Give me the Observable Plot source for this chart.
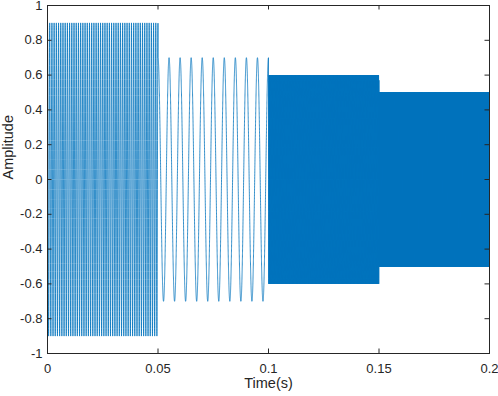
<!DOCTYPE html>
<html>
<head>
<meta charset="utf-8">
<script src="https://cdn.jsdelivr.net/npm/d3@7"></script>
<script src="https://cdn.jsdelivr.net/npm/@observablehq/plot@0.6"></script>
<style>
  html, body { margin: 0; padding: 0; background: #fff; }
  #chart svg { display: block; }
</style>
</head>
<body>
<div id="chart"></div>
<script>
// Signal segments
const segStart = [0, 0.05, 0.1, 0.15];
const segEnd = [0.05, 0.1, 0.15, 0.2];
const amplitudes = [0.9, 0.7, 0.6, 0.5];
const frequencies = [1000, 200, 5000, 10000]; // Hz
const sampleRate = 100000; // Hz

// Axis ticks
const xTicks = [0, 0.05, 0.1, 0.15, 0.2];
const yTicks = [-1, -0.8, -0.6, -0.4, -0.2, 0, 0.2, 0.4, 0.6, 0.8, 1];

// Build sampled signal from segment parameters
const signal = [];
const nSamples = Math.round(segEnd[segEnd.length - 1] * sampleRate);
for (let i = 0; i <= nSamples; i++) {
  const t = i / sampleRate;
  let k = segStart.findIndex((s, j) => t >= s && t < segEnd[j]);
  if (k < 0) k = segStart.length - 1;
  signal.push({t, v: amplitudes[k] * Math.cos(2 * Math.PI * frequencies[k] * t)});
}

const W = 498, H = 396;
const mL = 47, mR = 9, mT = 5, mB = 43;
const innerH = H - mT - mB, innerW = W - mL - mR;
const tickLen = 4.5;
const axisColor = "#262626";
const tickFont = 13;
const labelFont = 14.5;

const chart = Plot.plot({
  width: W,
  height: H,
  marginLeft: mL,
  marginRight: mR,
  marginTop: mT,
  marginBottom: mB,
  style: {fontFamily: "'Liberation Sans', Arial, Helvetica, sans-serif", fontSize: tickFont + "px", background: "#fff", color: axisColor, overflow: "visible"},
  x: {domain: [0, 0.2]},
  y: {domain: [-1, 1]},
  marks: [
    Plot.line(signal, {x: "t", y: "v", stroke: "#0072BD", strokeWidth: 0.8}),
    Plot.frame({stroke: axisColor, strokeWidth: 1}),
    // inward ticks on all four sides
    Plot.ruleX(xTicks, {x: d => d, stroke: axisColor, insetTop: innerH - tickLen}),
    Plot.ruleX(xTicks, {x: d => d, stroke: axisColor, insetBottom: innerH - tickLen}),
    Plot.ruleY(yTicks, {y: d => d, stroke: axisColor, insetRight: innerW - tickLen}),
    Plot.ruleY(yTicks, {y: d => d, stroke: axisColor, insetLeft: innerW - tickLen}),
    Plot.axisX(xTicks, {tickSize: 0, tickPadding: 10, label: null, tickFormat: d => String(d), fill: axisColor, fontSize: tickFont}),
    Plot.axisY(yTicks, {tickSize: 0, tickPadding: 5, label: null, tickFormat: d => String(d), fill: axisColor, fontSize: tickFont}),
    Plot.text(["Time(s)"], {frameAnchor: "bottom", dy: 34, text: d => d, fill: axisColor, fontSize: labelFont}),
    Plot.text(["Amplitude"], {frameAnchor: "left", dx: -39, rotate: -90, text: d => d, fill: axisColor, fontSize: labelFont})
  ]
});
document.getElementById("chart").appendChild(chart);
</script>
</body>
</html>
